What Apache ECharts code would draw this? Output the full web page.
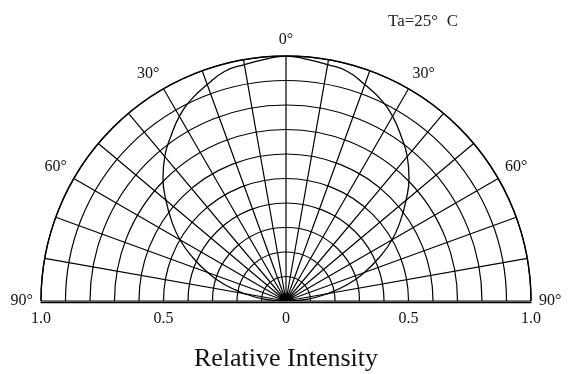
<!DOCTYPE html>
<html>
<head>
<meta charset="utf-8">
<style>
  html, body { margin: 0; padding: 0; background: #fff; }
  #chart { width: 572px; height: 374px; }
</style>
<script src="https://cdn.jsdelivr.net/npm/echarts@6/dist/echarts.min.js"></script>
</head>
<body>
<div id="chart"></div>
<script>
// Emission angle (degrees from the optical axis) and relative intensity
const angles = [-90, -85, -80, -75, -70, -65, -60, -55, -50, -45, -40, -35, -30, -25, -20, -15, -10, -5, 0,
                5, 10, 15, 20, 25, 30, 35, 40, 45, 50, 55, 60, 65, 70, 75, 80, 85, 90];
const intensity = [0, 0.09, 0.17, 0.26, 0.34, 0.42, 0.5, 0.57, 0.64, 0.71, 0.77, 0.82, 0.87, 0.91, 0.94, 0.97, 0.98, 0.99, 1.0,
                   0.99, 0.98, 0.97, 0.94, 0.91, 0.87, 0.82, 0.77, 0.71, 0.64, 0.57, 0.5, 0.42, 0.34, 0.26, 0.17, 0.09, 0];
// Angle labels shown on the rim, and intensity ticks along the base
const angleLabels = [-90, -60, -30, 0, 30, 60, 90];
const baseTicks = [-1, -0.5, 0, 0.5, 1];

const serif = '"Liberation Serif", "Times New Roman", serif';
const cx = 286, cy = 301, R = 245;

const chart = echarts.init(document.getElementById('chart'));
chart.setOption({
  animation: false,
  backgroundColor: '#fff',
  title: [
    {
      text: 'Ta=25°  C',
      left: 383, top: 8,
      textStyle: { fontFamily: serif, fontSize: 17, fontWeight: 'normal', color: '#222' }
    },
    {
      text: 'Relative Intensity',
      left: 'center', top: 341,
      textStyle: { fontFamily: serif, fontSize: 26, fontWeight: 'normal', color: '#111' }
    }
  ],
  polar: { center: [cx, cy], radius: R },
  angleAxis: {
    type: 'value',
    min: -90, max: 90, interval: 10,
    startAngle: 180, endAngle: 0, clockwise: true,
    axisLine: { show: true, lineStyle: { color: '#000', width: 1.4 } },
    axisTick: { show: false },
    splitLine: { show: true, lineStyle: { color: '#000', width: 1.2 } },
    axisLabel: {
      margin: 8,
      fontFamily: serif, fontSize: 16, color: '#111',
      formatter: v => angleLabels.indexOf(v) >= 0 ? Math.abs(v) + '°' : ''
    }
  },
  radiusAxis: {
    type: 'value', min: 0, max: 1, interval: 0.1,
    axisLine: { show: false },
    axisTick: { show: false },
    axisLabel: { show: false },
    splitLine: { show: true, lineStyle: { color: '#000', width: 1.2 } }
  },
  grid: { left: cx - R, width: 2 * R, top: cy, height: 1 },
  xAxis: {
    type: 'value', min: -1, max: 1, interval: 0.5,
    axisLine: { show: true, lineStyle: { color: '#000', width: 1.4 } },
    axisTick: { show: false },
    splitLine: { show: false },
    axisLabel: {
      margin: 9,
      fontFamily: serif, fontSize: 16, color: '#111',
      customValues: baseTicks,
      formatter: v => v === 0 ? '0' : Math.abs(v).toFixed(1)
    }
  },
  yAxis: { type: 'value', show: false, min: 0, max: 1 },
  series: [{
    type: 'line',
    coordinateSystem: 'polar',
    data: angles.map((a, i) => [intensity[i], a]),
    smooth: true,
    showSymbol: false,
    lineStyle: { color: '#000', width: 1.3 }
  }]
});
</script>
</body>
</html>
